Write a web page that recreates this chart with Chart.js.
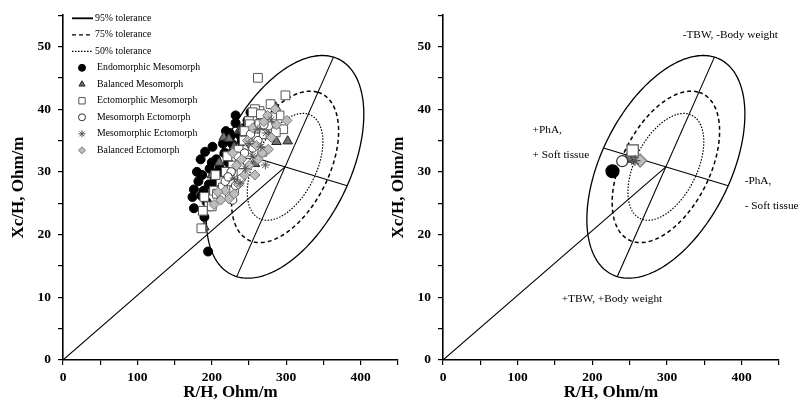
<!DOCTYPE html>
<html>
<head>
<meta charset="utf-8">
<script src="https://cdn.jsdelivr.net/npm/chart.js@4.4.1/dist/chart.umd.min.js"></script>
<style>
html, body { margin: 0; padding: 0; background: #fff; }
#wrap { position: relative; width: 799px; height: 408px; overflow: hidden; }
canvas { position: absolute; top: 0; }
#left { left: 0; }
#right { left: 380px; }
</style>
</head>
<body>
<div id="wrap">
  <canvas id="left" width="405" height="408"></canvas>
  <canvas id="right" width="419" height="408"></canvas>
</div>
<script>
// -------------------------------
// DATA (R/H, Xc/H in Ohm/m)
// -------------------------------
const groupNames = ["Endomorphic Mesomorph", "Balanced Mesomorph", "Ectomorphic Mesomorph",
                    "Mesomorph Ectomorph", "Mesomorphic Ectomorph", "Balanced Ectomorph"];

const endoMeso = [[252,39.5],[232,37.8],[226,35.8],[201,34.0],[185,32.0],[191,33.2],[180,30.0],[187,29.5],
  [176,27.2],[174,26.0],[186,26.2],[196,28.0],[204,29.0],[211,30.5],[217,33.0],[227,34.5],[238,35.8],
  [244,37.0],[240,34.8],[222,31.5],[213,29.8],[208,28.0],[193,25.2],[190,22.8],[195,17.3],[200,31.5],
  [176,24.2],[232,39.0],[248,38.2],[224,36.2],[189,27.0],[182,28.5],[215,34.5],[230,33.5],[219,36.5],
  [197,30.5],[206,32.0]];

const balMeso = [[286,40.3],[302,34.9],[216,35.5],[237,36.6],[223,35.3],[240,36.8],[287,34.8],[188,23.6],
  [190,21.2],[246,32.5],[250,35.0],[262,37.8],[210,31.5],[230,34.0],[258,31.3],[275,36.0],[200,29.5]];

const ectoMeso = [[262,45.0],[299,42.2],[279,40.8],[291,39.0],[264,39.7],[258,40.0],[250,38.1],[276,38.1],
  [296,36.8],[255,39.5],[266,39.2],[251,37.6],[264,37.6],[276,37.4],[281,38.7],[286,36.3],[243,35.0],
  [236,33.5],[228,31.0],[219,30.0],[212,28.5],[203,27.0],[196,24.5],[186,21.0],[188,23.8],[200,24.5],
  [207,26.5],[215,27.5],[225,28.5],[232,29.5],[238,31.2],[247,32.8],[254,34.5],[260,35.5],[270,36.0],
  [244,36.5],[221,32.5],[190,26.0],[205,29.5],[230,27.0],[240,29.8],[268,33.2]];

const mesoEcto = [[232,27.8],[218,28.5],[240,29.0],[226,30.0],[248,31.5],[235,32.5],[255,33.8],[213,26.0],
  [262,35.0],[244,33.0],[228,25.5],[222,29.2],[252,36.0],[270,37.5]];

const mesomorphicEcto = [[272,31.1],[273,36.2],[262,36.8],[245,30.5],[238,28.2],[255,32.5],[230,29.0],
  [266,34.0],[250,34.5],[280,38.3]];

const balEcto = [[301,38.2],[276,33.6],[203,24.8],[223,25.7],[287,37.5],[268,33.0],[260,34.2],[250,31.0],
  [244,29.5],[236,28.0],[230,26.5],[218,27.0],[212,25.5],[255,37.0],[270,38.0],[280,35.5],[262,32.0],
  [240,32.0],[248,35.0],[233,31.0],[228,33.0],[285,40.0],[275,39.0],[258,29.5],[208,26.8]];

// group means (right panel)
const meanX = [227, 248, 254, 240, 257, 264];
const meanY = [30.1, 32.1, 33.4, 31.7, 31.8, 31.8];

// reference tolerance ellipse
const ellipseCenter = [298.5, 30.8];
const ellipseMajorEnd = [363.5, 48.3];
const ellipseMinorEnd = [382, 27.8];
const toleranceLabels = ["95% tolerance", "75% tolerance", "50% tolerance"];
const toleranceScale = [1, 0.68, 0.48];

// tick labels
const xTicks = [0, 100, 200, 300, 400];
const yTicks = [0, 10, 20, 30, 40, 50];

// right panel notes
const noteText = ["-TBW, -Body weight", "+PhA,", "+ Soft tissue", "-PhA,", "- Soft tissue", "+TBW, +Body weight"];
const noteX = [321, 120, 120, 404, 404, 159];
const noteY = [51.9, 36.7, 32.7, 28.6, 24.5, 9.8];

// -------------------------------
// STYLES
// -------------------------------
const SERIF = "'Liberation Serif', 'Times New Roman', serif";
const toleranceDash = [[], [4, 3], [1.5, 1.5]];
const toleranceWidth = [1.3, 1.5, 1.2];

const groupData = [endoMeso, balMeso, ectoMeso, mesoEcto, mesomorphicEcto, balEcto];
const groupStyle = [
    { style: "circle",   r: 4.5, rBig: 6.5, bg: "#000",    border: "#000", order: 6 },
    { style: "triangle", r: 5.5, rBig: 7,   bg: "#707070", border: "#222", order: 5 },
    { style: "rect",     r: 6.2, rBig: 8,   bg: "#fff",    border: "#555", order: 4 },
    { style: "circle",   r: 4.2, rBig: 5.5, bg: "#fff",    border: "#333", order: 3 },
    { style: "star",     r: 4.5, rBig: 5.5, bg: "#fff",    border: "#555", order: 1 },
    { style: "rectRot",  r: 5,   rBig: 6.5, bg: "#bdbdbd", border: "#777", order: 2 }
];

function mirror(p) { return [2 * ellipseCenter[0] - p[0], 2 * ellipseCenter[1] - p[1]]; }

function lineDatasets() {
    const segs = [
        [[0, 0], ellipseCenter],
        [mirror(ellipseMajorEnd), ellipseMajorEnd],
        [mirror(ellipseMinorEnd), ellipseMinorEnd]
    ];
    return segs.map(s => ({
        data: s.map(p => ({ x: p[0], y: p[1] })),
        showLine: true,
        borderColor: "#000",
        borderWidth: 1.1,
        pointRadius: 0,
        order: 10
    }));
}

// -------------------------------
// PLUGINS
// -------------------------------
const ellipsePlugin = {
    id: "ellipses",
    beforeDatasetsDraw(chart) {
        const { ctx } = chart;
        const x = chart.scales.x, y = chart.scales.y;
        const cx = x.getPixelForValue(ellipseCenter[0]), cy = y.getPixelForValue(ellipseCenter[1]);
        const ax = x.getPixelForValue(ellipseMajorEnd[0]) - cx, ay = y.getPixelForValue(ellipseMajorEnd[1]) - cy;
        const bx = x.getPixelForValue(ellipseMinorEnd[0]) - cx, by = y.getPixelForValue(ellipseMinorEnd[1]) - cy;
        toleranceScale.forEach((s, i) => {
            ctx.save();
            ctx.beginPath();
            for (let k = 0; k <= 240; k++) {
                const t = k / 240 * 2 * Math.PI;
                const px = cx + s * (ax * Math.cos(t) + bx * Math.sin(t));
                const py = cy + s * (ay * Math.cos(t) + by * Math.sin(t));
                if (k === 0) ctx.moveTo(px, py); else ctx.lineTo(px, py);
            }
            ctx.closePath();
            ctx.setLineDash(toleranceDash[i]);
            ctx.lineWidth = toleranceWidth[i];
            ctx.strokeStyle = "#000";
            ctx.stroke();
            ctx.restore();
        });
    }
};

function drawMark(ctx, st, x, y, r) {
    ctx.save();
    ctx.fillStyle = st.bg;
    ctx.strokeStyle = st.border;
    ctx.lineWidth = 1;
    ctx.beginPath();
    if (st.style === "circle") {
        ctx.arc(x, y, r, 0, Math.PI * 2);
    } else if (st.style === "triangle") {
        ctx.moveTo(x, y - r);
        ctx.lineTo(x + r * 0.87, y + r * 0.5);
        ctx.lineTo(x - r * 0.87, y + r * 0.5);
        ctx.closePath();
    } else if (st.style === "rect") {
        const h = r / Math.SQRT2;
        ctx.rect(x - h, y - h, 2 * h, 2 * h);
    } else if (st.style === "rectRot") {
        ctx.moveTo(x, y - r); ctx.lineTo(x + r, y); ctx.lineTo(x, y + r); ctx.lineTo(x - r, y);
        ctx.closePath();
    } else if (st.style === "star") {
        for (let a = 0; a < 4; a++) {
            const ang = a * Math.PI / 4;
            ctx.moveTo(x - r * Math.cos(ang), y - r * Math.sin(ang));
            ctx.lineTo(x + r * Math.cos(ang), y + r * Math.sin(ang));
        }
        ctx.stroke();
        ctx.restore();
        return;
    }
    ctx.fill();
    ctx.stroke();
    ctx.restore();
}

const legendPlugin = {
    id: "sideLegend",
    afterDraw(chart) {
        const { ctx, chartArea } = chart;
        const left = chartArea.left, top = 18.3, step = 16.5;
        ctx.save();
        ctx.font = "9.8px " + SERIF;
        ctx.fillStyle = "#000";
        ctx.textBaseline = "middle";
        toleranceLabels.forEach((lab, i) => {
            const yy = top + i * step;
            ctx.save();
            ctx.beginPath();
            ctx.setLineDash(toleranceDash[i]);
            ctx.lineWidth = i === 0 ? 1.8 : 1.2;
            ctx.strokeStyle = "#000";
            ctx.moveTo(left + 9, yy);
            ctx.lineTo(left + 30, yy);
            ctx.stroke();
            ctx.restore();
            ctx.fillText(lab, left + 32, yy);
        });
        groupNames.forEach((lab, i) => {
            const yy = top + (i + 3) * step;
            drawMark(ctx, groupStyle[i], left + 19, yy, i === 2 ? 4.5 : 3.5);
            ctx.fillStyle = "#000";
            ctx.fillText(lab, left + 34, yy);
        });
        ctx.restore();
    }
};

const notesPlugin = {
    id: "notes",
    afterDraw(chart) {
        const { ctx } = chart;
        ctx.save();
        ctx.font = "11.3px " + SERIF;
        ctx.fillStyle = "#000";
        ctx.textBaseline = "middle";
        noteText.forEach((t, i) => {
            ctx.fillText(t, chart.scales.x.getPixelForValue(noteX[i]), chart.scales.y.getPixelForValue(noteY[i]));
        });
        ctx.restore();
    }
};

// -------------------------------
// CHARTS
// -------------------------------
function axisOptions(rightPad) {
    const tickFont = { family: SERIF, size: 13.5, weight: "bold" };
    const titleFont = { family: SERIF, size: 17, weight: "bold" };
    const grid = { display: true, drawOnChartArea: false, drawTicks: true, tickLength: 5, color: "#000", lineWidth: 1.2 };
    const border = { display: true, color: "#000", width: 1.6 };
    return {
        responsive: false,
        animation: false,
        devicePixelRatio: 1,
        layout: { padding: { left: 0, right: rightPad, top: 4, bottom: 0 } },
        plugins: { legend: { display: false }, tooltip: { enabled: false } },
        scales: {
            x: {
                type: "linear", min: 0, max: 450,
                grid: grid, border: border,
                ticks: { stepSize: 50, color: "#000", font: tickFont, padding: 4, maxRotation: 0,
                         callback: v => xTicks.includes(v) ? v : "" },
                title: { display: true, text: "R/H, Ohm/m", color: "#000", font: titleFont, padding: { top: 0, bottom: 5 } },
                afterFit: s => { s.height = 48; }
            },
            y: {
                type: "linear", min: 0, max: 55,
                grid: grid, border: border,
                ticks: { stepSize: 5, color: "#000", font: tickFont, padding: 7,
                         callback: v => yTicks.includes(v) ? v : "" },
                title: { display: true, text: "Xc/H, Ohm/m", color: "#000", font: titleFont, padding: { top: 8, bottom: 0 } },
                afterFit: s => { s.width = 63; }
            }
        }
    };
}

const leftSets = lineDatasets().concat(groupData.map((g, i) => ({
    label: groupNames[i],
    data: g.map(p => ({ x: p[0], y: p[1] })),
    pointStyle: groupStyle[i].style,
    pointRadius: groupStyle[i].r,
    pointBackgroundColor: groupStyle[i].bg,
    pointBorderColor: groupStyle[i].border,
    pointBorderWidth: 1,
    showLine: false,
    order: groupStyle[i].order
})));

new Chart(document.getElementById("left"), {
    type: "scatter",
    data: { datasets: leftSets },
    options: axisOptions(7),
    plugins: [ellipsePlugin, legendPlugin]
});

const rightSets = lineDatasets().concat(groupNames.map((n, i) => ({
    label: n,
    data: [{ x: meanX[i], y: meanY[i] }],
    pointStyle: groupStyle[i].style,
    pointRadius: groupStyle[i].rBig,
    pointBackgroundColor: groupStyle[i].bg,
    pointBorderColor: groupStyle[i].border,
    pointBorderWidth: 1.2,
    showLine: false,
    order: groupStyle[i].order
})));

new Chart(document.getElementById("right"), {
    type: "scatter",
    data: { datasets: rightSets },
    options: axisOptions(20),
    plugins: [ellipsePlugin, notesPlugin]
});
</script>
</body>
</html>
